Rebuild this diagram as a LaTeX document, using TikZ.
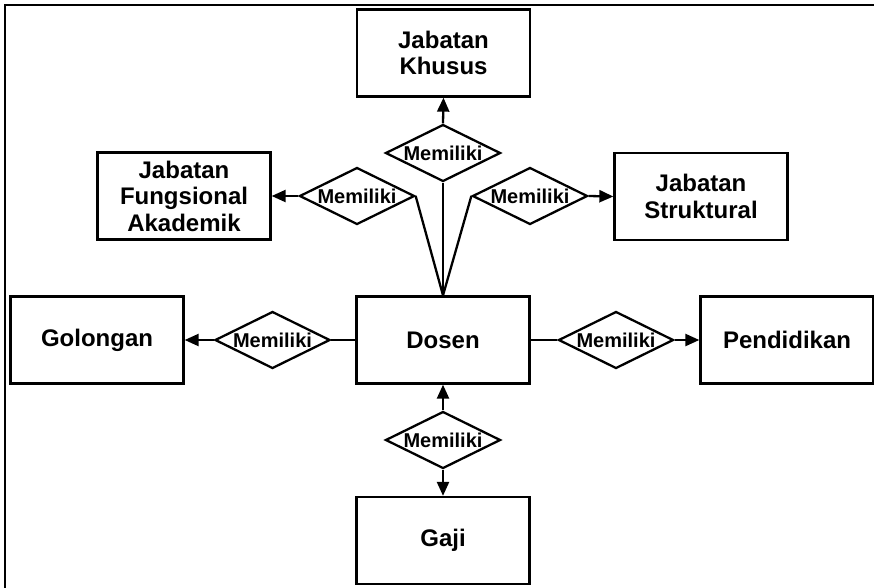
\documentclass[tikz,border=0pt]{standalone}
\usepackage{fontspec}
\setmainfont{Liberation Sans}
\usetikzlibrary{shapes.geometric,arrows.meta}
\begin{document}
\begin{tikzpicture}[x=1pt,y=-1pt,line width=2.3pt,
  entity/.style={draw,rectangle,minimum width=173pt,minimum height=87pt,inner sep=0pt,align=center,
    font=\fontsize{24}{26.5}\selectfont\bfseries},
  rel/.style={draw,diamond,aspect=2,minimum width=115pt,minimum height=57pt,inner sep=0pt,
    font=\fontsize{20}{22}\selectfont\bfseries},
  arr/.style={-{Triangle[length=14pt,width=12pt]}}]
\useasboundingbox (0,0) rectangle (874,587);
\draw (5,590) -- (5,5) -- (880,5);
\node[entity] (khusus) at (443.5,53) {Jabatan\\Khusus};
\node[entity] (jfa) at (184,196) {Jabatan\\Fungsional\\Akademik};
\node[entity] (js) at (701,196.5) {Jabatan\\Struktural};
\node[entity] (gol) at (97,340) {Golongan};
\node[entity] (dosen) at (443,340) {Dosen};
\node[entity] (pen) at (787,340) {Pendidikan};
\node[entity] (gaji) at (443,540.5) {Gaji};
\node[rel] (dC) at (443,153) {Memiliki};
\node[rel] (dL) at (357,196) {Memiliki};
\node[rel] (dR) at (530,196) {Memiliki};
\node[rel] (dG) at (272.5,340) {Memiliki};
\node[rel] (dP) at (616,340) {Memiliki};
\node[rel] (dB) at (443,440) {Memiliki};
\draw (dosen.north) -- (dC.south);
\draw (dosen.north) -- (dL.east);
\draw (dosen.north) -- (dR.west);
\draw[arr] (dC.north) -- (khusus.south);
\draw[arr] (dL.west) -- (jfa.east);
\draw[arr] (dR.east) -- (js.west);
\draw (dosen.west) -- (dG.east);
\draw[arr] (dG.west) -- (gol.east);
\draw (dosen.east) -- (dP.west);
\draw[arr] (dP.east) -- (pen.west);
\draw[arr] (dB.north) -- (dosen.south);
\draw[arr] (dB.south) -- (gaji.north);
\end{tikzpicture}
\end{document}
